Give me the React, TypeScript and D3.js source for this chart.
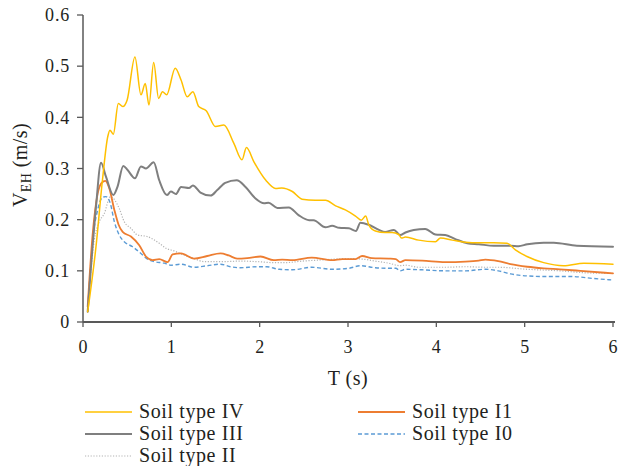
import React from "react";
import * as d3 from "d3";

// Spectral velocity V_EH (m/s) against period T (s), one series per soil type: [T, V]
const soilIV: [number, number][] = [
  [0.053, 0.02], [0.147, 0.147], [0.22, 0.277], [0.28, 0.362], [0.305, 0.375], [0.343, 0.367],
  [0.4, 0.427], [0.45, 0.421], [0.5, 0.434], [0.588, 0.518], [0.656, 0.444], [0.705, 0.466],
  [0.747, 0.424], [0.8, 0.507], [0.856, 0.437], [0.9, 0.45], [0.947, 0.444], [1.044, 0.496],
  [1.11, 0.473], [1.18, 0.44], [1.244, 0.45], [1.31, 0.421], [1.395, 0.413], [1.5, 0.382],
  [1.595, 0.385], [1.708, 0.349], [1.8, 0.317], [1.85, 0.341], [1.935, 0.313], [2.07, 0.277],
  [2.18, 0.261], [2.25, 0.262], [2.37, 0.255], [2.48, 0.24], [2.63, 0.238], [2.745, 0.238],
  [2.86, 0.227], [2.97, 0.219], [3.085, 0.207], [3.15, 0.199], [3.2, 0.207], [3.235, 0.19],
  [3.31, 0.178], [3.42, 0.175], [3.5, 0.175], [3.575, 0.171], [3.605, 0.164], [3.65, 0.166],
  [3.8, 0.16], [3.99, 0.157], [4.046, 0.164], [4.18, 0.16], [4.33, 0.156], [4.48, 0.155],
  [4.65, 0.155], [4.8, 0.154], [4.895, 0.141], [5.026, 0.128], [5.215, 0.116], [5.44, 0.11],
  [5.67, 0.115], [6.0, 0.113],
];

const soilIII: [number, number][] = [
  [0.053, 0.02], [0.147, 0.225], [0.204, 0.311], [0.26, 0.284], [0.343, 0.248], [0.39, 0.264],
  [0.456, 0.305], [0.505, 0.297], [0.588, 0.281], [0.656, 0.304], [0.713, 0.3], [0.8, 0.312],
  [0.863, 0.277], [0.95, 0.248], [0.995, 0.255], [1.052, 0.25], [1.11, 0.264], [1.2, 0.262],
  [1.244, 0.267], [1.33, 0.253], [1.445, 0.247], [1.52, 0.258], [1.61, 0.272], [1.74, 0.277],
  [1.84, 0.264], [1.95, 0.242], [2.05, 0.232], [2.1, 0.233], [2.2, 0.223], [2.33, 0.224],
  [2.44, 0.209], [2.56, 0.199], [2.61, 0.199], [2.745, 0.185], [2.82, 0.188], [2.9, 0.184],
  [3.01, 0.183], [3.09, 0.178], [3.14, 0.194], [3.235, 0.19], [3.35, 0.18], [3.42, 0.176],
  [3.52, 0.18], [3.59, 0.17], [3.65, 0.175], [3.745, 0.18], [3.875, 0.182], [3.99, 0.171],
  [4.1, 0.17], [4.215, 0.162], [4.35, 0.154], [4.48, 0.152], [4.65, 0.149], [4.84, 0.149],
  [4.93, 0.148], [5.03, 0.152], [5.215, 0.155], [5.33, 0.155], [5.59, 0.149], [6.0, 0.147],
];

const soilII: [number, number][] = [
  [0.053, 0.025], [0.128, 0.16], [0.185, 0.196], [0.241, 0.212], [0.31, 0.245], [0.41, 0.222],
  [0.467, 0.196], [0.543, 0.183], [0.618, 0.17], [0.73, 0.167], [0.79, 0.162], [0.863, 0.154],
  [0.94, 0.144], [1.03, 0.139], [1.14, 0.131], [1.256, 0.124], [1.37, 0.118], [1.595, 0.118],
  [1.78, 0.119], [1.97, 0.118], [2.16, 0.116], [2.29, 0.116], [2.48, 0.119], [2.67, 0.121],
  [2.86, 0.123], [3.01, 0.124], [3.16, 0.123], [3.31, 0.119], [3.46, 0.115], [3.59, 0.11],
  [3.65, 0.111], [3.8, 0.107], [4.1, 0.107], [4.33, 0.108], [4.555, 0.107], [4.7, 0.107],
  [5.03, 0.103], [5.4, 0.1], [5.7, 0.096], [6.0, 0.095],
];

const soilI1: [number, number][] = [
  [0.053, 0.03], [0.11, 0.173], [0.166, 0.251], [0.211, 0.272], [0.253, 0.276], [0.298, 0.261],
  [0.355, 0.219], [0.403, 0.19], [0.449, 0.176], [0.543, 0.167], [0.637, 0.15], [0.713, 0.128],
  [0.788, 0.121], [0.863, 0.123], [0.957, 0.117], [1.014, 0.132], [1.11, 0.134], [1.256, 0.124],
  [1.406, 0.129], [1.557, 0.134], [1.65, 0.13], [1.745, 0.124], [1.86, 0.125], [2.01, 0.128],
  [2.16, 0.121], [2.255, 0.122], [2.37, 0.121], [2.59, 0.126], [2.82, 0.121], [2.935, 0.123],
  [3.085, 0.123], [3.16, 0.129], [3.27, 0.125], [3.46, 0.124], [3.54, 0.123], [3.59, 0.117],
  [3.65, 0.121], [3.84, 0.12], [4.1, 0.117], [4.33, 0.118], [4.48, 0.12], [4.555, 0.122],
  [4.7, 0.119], [4.84, 0.113], [5.03, 0.108], [5.215, 0.105], [5.4, 0.103], [5.63, 0.1],
  [6.0, 0.095],
];

const soilI0: [number, number][] = [
  [0.053, 0.02], [0.11, 0.16], [0.166, 0.219], [0.223, 0.244], [0.26, 0.245], [0.309, 0.232],
  [0.355, 0.196], [0.41, 0.17], [0.467, 0.157], [0.562, 0.147], [0.656, 0.134], [0.73, 0.123],
  [0.807, 0.118], [0.92, 0.115], [0.995, 0.111], [1.11, 0.113], [1.256, 0.107], [1.406, 0.11],
  [1.557, 0.113], [1.67, 0.108], [1.78, 0.106], [1.97, 0.108], [2.08, 0.108], [2.22, 0.103],
  [2.37, 0.102], [2.59, 0.107], [2.82, 0.103], [3.01, 0.105], [3.14, 0.11], [3.31, 0.106],
  [3.46, 0.105], [3.54, 0.105], [3.59, 0.1], [3.65, 0.103], [3.84, 0.102], [4.1, 0.1],
  [4.33, 0.1], [4.555, 0.103], [4.7, 0.1], [4.84, 0.094], [5.03, 0.09], [5.215, 0.089],
  [5.52, 0.089], [5.78, 0.085], [6.0, 0.082],
];

const xTicks = [0, 1, 2, 3, 4, 5, 6];
const yTicks = [0, 0.1, 0.2, 0.3, 0.4, 0.5, 0.6];

type Series = {
  name: string;
  data: [number, number][];
  color: string;
  width: number;
  dash?: string;
};

const series: Series[] = [
  { name: "Soil type II", data: soilII, color: "#b4b4b4", width: 1.2, dash: "1.2,1.6" },
  { name: "Soil type I0", data: soilI0, color: "#5b9bd5", width: 1.4, dash: "4,2.5" },
  { name: "Soil type I1", data: soilI1, color: "#ed7d31", width: 1.8 },
  { name: "Soil type III", data: soilIII, color: "#7f7f7f", width: 2 },
  { name: "Soil type IV", data: soilIV, color: "#ffc000", width: 1.5 },
];

const legendLeft = ["Soil type IV", "Soil type III", "Soil type II"];
const legendRight = ["Soil type I1", "Soil type I0"];

const W = 619;
const H = 466;
const font = "'Liberation Serif', 'Times New Roman', serif";
const textColor = "#231f20";
const axisColor = "#595959";
const textStyle = { fontFamily: font };

export default function App() {
  const x = d3.scaleLinear().domain([0, 6]).range([83, 613]);
  const y = d3.scaleLinear().domain([0, 0.6]).range([322, 15]);
  const x0 = x(0);

  const line = d3
    .line<[number, number]>()
    .x((d) => x(d[0]))
    .y((d) => y(d[1]))
    .curve(d3.curveMonotoneX);

  const byName = (n: string) => series.find((s) => s.name === n)!;

  const legendItem = (name: string, lx: number, ly: number) => {
    const s = byName(name);
    return (
      <g key={name}>
        <line
          x1={lx}
          x2={lx + 47}
          y1={ly - 5.5}
          y2={ly - 5.5}
          stroke={s.color}
          strokeWidth={s.width}
          strokeDasharray={s.dash}
        />
        <text
          x={lx + 54}
          y={ly}
          fontSize={20}
          letterSpacing={0.6}
          fill={textColor}
          style={textStyle}
        >
          {name}
        </text>
      </g>
    );
  };

  return (
    <svg
      width={W}
      height={H}
      style={{ position: "absolute", left: 0, top: 0, background: "#fff" }}
    >
      <rect width={W} height={H} fill="#fff" />

      {/* y axis */}
      <line x1={x0} x2={x0} y1={y(0.6)} y2={y(0)} stroke={axisColor} strokeWidth={1.5} />
      {yTicks.map((t) => (
        <g key={"y" + t}>
          <line x1={x0 - 6} x2={x0} y1={y(t)} y2={y(t)} stroke={axisColor} strokeWidth={1.3} />
          <text
            x={70}
            y={y(t)}
            dy="0.35em"
            textAnchor="end"
            fontSize={18}
            letterSpacing={0.8}
            fill={textColor}
            style={textStyle}
          >
            {t === 0 ? "0" : d3.format(".1f")(t)}
          </text>
        </g>
      ))}

      {/* x axis */}
      <line x1={x0} x2={615} y1={y(0)} y2={y(0)} stroke={axisColor} strokeWidth={2} />
      {xTicks.map((t) => (
        <g key={"x" + t}>
          <line x1={x(t)} x2={x(t)} y1={y(0)} y2={y(0) + 5} stroke={axisColor} strokeWidth={1.3} />
          <text
            x={x(t)}
            y={352.5}
            textAnchor="middle"
            fontSize={18}
            fill={textColor}
            style={textStyle}
          >
            {t}
          </text>
        </g>
      ))}

      {/* series */}
      {series.map((s) => (
        <path
          key={s.name}
          d={line(s.data) ?? ""}
          fill="none"
          stroke={s.color}
          strokeWidth={s.width}
          strokeDasharray={s.dash}
          strokeLinejoin="round"
          strokeLinecap={s.dash ? "butt" : "round"}
        />
      ))}

      {/* axis titles */}
      <text
        x={348}
        y={385}
        textAnchor="middle"
        fontSize={20}
        letterSpacing={0.5}
        fill={textColor}
        style={textStyle}
      >
        T (s)
      </text>
      <text
        transform="translate(27, 165) rotate(-90)"
        textAnchor="middle"
        fontSize={20}
        letterSpacing={0.4}
        fill={textColor}
        style={textStyle}
      >
        V
        <tspan fontSize={14} dy={4}>
          EH
        </tspan>
        <tspan dy={-4}> (m/s)</tspan>
      </text>

      {/* legend */}
      {legendLeft.map((n, i) => legendItem(n, 85, 417.5 + i * 22))}
      {legendRight.map((n, i) => legendItem(n, 358, 417.5 + i * 22))}
    </svg>
  );
}
